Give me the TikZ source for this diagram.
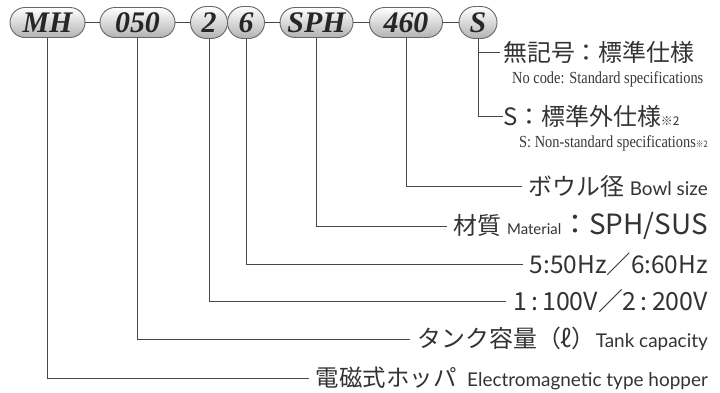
\documentclass[tikz,border=0pt]{standalone}
\usepackage{fontspec}
\usepackage{graphicx}
\setmainfont{Liberation Serif}
\newfontfamily\jp{Noto Sans CJK JP}
\newfontfamily\opt{Lato}
\newcommand\fsz[1]{\fontsize{#1}{#1}\selectfont}
\newcommand\cond[1]{\scalebox{0.85}[1]{#1}}
\tikzset{
  pill/.style={draw=black!60, line width=0.9bp, rounded corners=15bp,
    minimum height=30bp, inner sep=0pt, top color=white, bottom color=black!30,
    font=\fsz{30}\bfseries\itshape, text=black!85},
  conn/.style={draw=black!72, line width=0.9bp},
  lbl/.style={inner sep=0pt, text=black!80, font=\jp\fsz{24}},
  big/.style={inner sep=0pt, text=black!80, font=\jp\fsz{24}},
  eng/.style={inner sep=0pt, text=black!78, font=\fsz{17}}
}
\begin{document}
\begin{tikzpicture}[x=1bp,y=-1bp]
\fill[white] (0,0) rectangle (720,392);
\useasboundingbox (0,0) rectangle (720,392);

% code pills
\node[pill, minimum width=75bp] (mh)   at (47.5,22.5) {MH};
\node[pill, minimum width=75bp] (c050) at (137.5,22.5) {050};
\node[pill, minimum width=37bp, minimum height=32bp, rounded corners=16bp] (c2) at (209,22.5) {2};
\node[pill, minimum width=37bp, minimum height=32bp, rounded corners=16bp] (c6) at (246,22.5) {6};
\node[pill, minimum width=73bp] (sph)  at (316.5,22.5) {SPH};
\node[pill, minimum width=73bp] (c460) at (406,22.5) {460};
\node[pill, minimum width=38bp, minimum height=32bp, rounded corners=16bp] (cs) at (478,22.5) {S};

\draw[conn] (mh) -- (c050);
\draw[conn] (c050) -- (c2);
\draw[conn] (c6) -- (sph);
\draw[conn] (sph) -- (c460);
\draw[conn] (c460) -- (cs);

% S branch labels
\node[big, anchor=west] (tnone) at (503,52) {無記号：標準仕様};
\node[eng, anchor=west] (tnoneE) at (512,79) {\cond{No code: Standard specifications}};
\node[big, anchor=west] (tss) at (503,116) {S：標準外仕様{\fsz{12}※2}};
\node[eng, anchor=east] (tssE) at (708,143) {\cond{S: Non-standard specifications{\jp\fsz{9}※2}}};

\coordinate (sb) at (cs.south |- tnone.west);
\draw[conn] (cs.south) |- (tss.west);
\draw[conn] (sb) -- ([xshift=-3bp]tnone.west);

% lower labels
\node[lbl, anchor=east] (tbowl) at (708,186) {ボウル径\ {\opt\fsz{19}Bowl size}};
\node[lbl, anchor=east] (tmat)  at (708,226) {材質\ {\opt\fsz{15}Material}{\fsz{28}：SPH/SUS}};
\node[lbl, anchor=east] (thz)   at (708,264) {\fsz{24.5}5:50Hz／6:60Hz};
\node[lbl, anchor=east] (tv)    at (708,301) {\fsz{25}1\,:\,100V／2\,:\,200V};
\node[lbl, anchor=east] (ttank) at (708,339) {タンク容量（ℓ）{\opt\fsz{19}Tank capacity}};
\node[lbl, anchor=east] (tmh)   at (708,378) {{\fsz{23.5}電磁式ホッパ}\ \ {\opt\fsz{19}Electromagnetic type hopper}};

\draw[conn, shorten >=7bp] (c460.south) |- (tbowl.west);
\draw[conn, shorten >=7bp] (sph.south)  |- (tmat.west);
\draw[conn, shorten >=7bp] (c6.south)   |- (thz.west);
\draw[conn, shorten >=7bp] (c2.south)   |- (tv.west);
\draw[conn, shorten >=7bp] (c050.south) |- (ttank.west);
\draw[conn, shorten >=7bp] (mh.south)   |- (tmh.west);
\end{tikzpicture}
\end{document}
